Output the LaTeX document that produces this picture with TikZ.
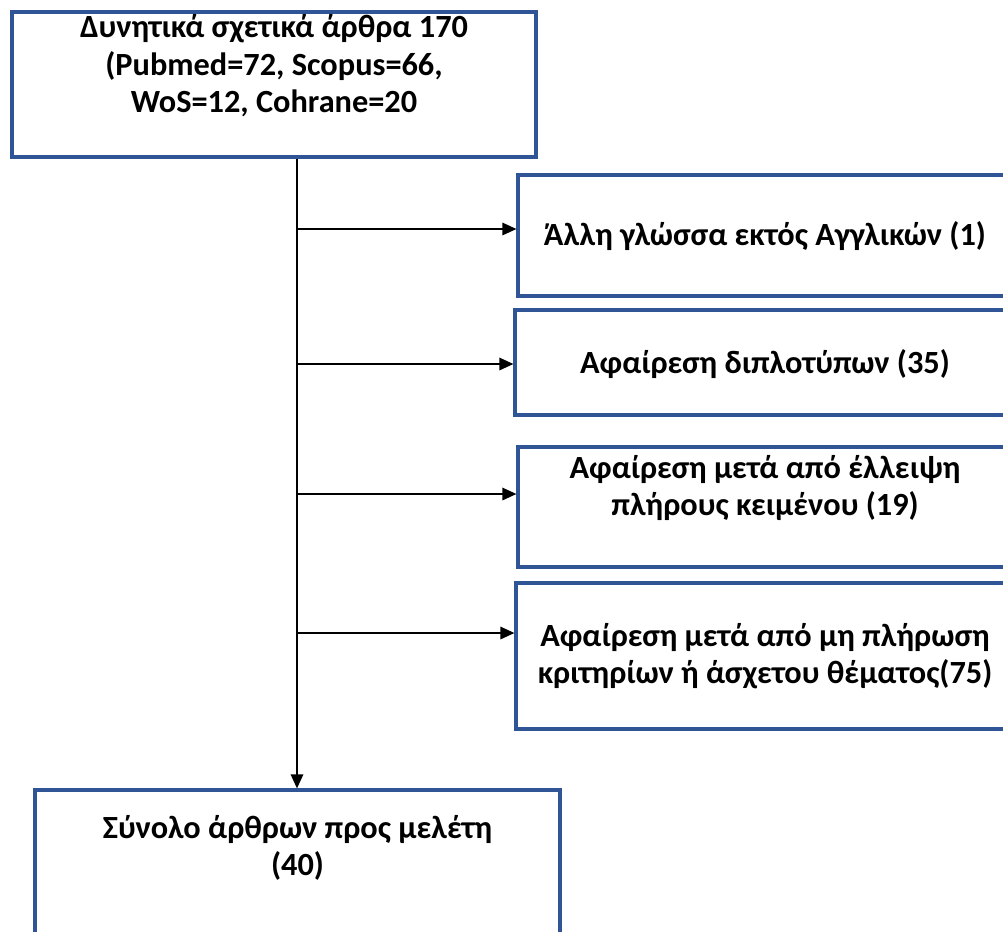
\documentclass[tikz,border=0pt]{standalone}
\usepackage{fontspec}
\setmainfont{Carlito}
\usetikzlibrary{arrows.meta,positioning}
\definecolor{boxblue}{RGB}{47,85,151}

\begin{document}
\begin{tikzpicture}[x=0.02cm,y=-0.02cm,
    box/.style={draw=boxblue,line width=1.8pt,rectangle,inner sep=0pt},
    txt/.style={align=center,font=\fontsize{18.4}{21.3}\selectfont\bfseries,inner sep=0pt},
    flow/.style={line width=1.2pt,-{Triangle[length=8pt,width=7pt]}}]
        \useasboundingbox (0,0) rectangle (1003,931);
        \clip (0,0) rectangle (1003,931);

        \node[box,minimum width=10.48cm,minimum height=2.9cm] (src) at (274,84.5) {};
        \node[txt] (srctxt) at (274,66) {Δυνητικά σχετικά άρθρα 170\\(Pubmed=72, Scopus=66,\\WoS=12, Cohrane=20};

        \node[box,minimum width=9.88cm,minimum height=2.42cm] (ex1) at (765,235.5) {};
        \node[txt] (ex1txt) at (765,236) {Άλλη γλώσσα εκτός Αγγλικών (1)};
        \node[box,minimum width=9.94cm,minimum height=2.1cm] (ex2) at (763.5,362.5) {};
        \node[txt] (ex2txt) at (765,364) {Αφαίρεση διπλοτύπων (35)};
        \node[box,minimum width=9.88cm,minimum height=2.4cm] (ex3) at (765,507) {};
        \node[txt] (ex3txt) at (765,488) {Αφαίρεση μετά από έλλειψη\\πλήρους κειμένου (19)};
        \node[box,minimum width=9.92cm,minimum height=2.92cm] (ex4) at (764,656) {};
        \node[txt] (ex4txt) at (765,656) {Αφαίρεση μετά από μη πλήρωση\\κριτηρίων ή άσχετου θέματος(75)};

        \node[box,minimum width=10.5cm,minimum height=3.4cm] (total) at (297.5,875) {};
        \node[txt] (totaltxt) at (297.5,848) {Σύνολο άρθρων προς μελέτη\\(40)};

        % trunk and side branches
        \coordinate (top) at (297,0 |- src.south);
        \draw[flow] (top) -- (top |- total.north);
        \foreach \y/\b in {229/ex1,364/ex2,494/ex3,633/ex4}{
            \coordinate (j\b) at (297,\y);
            \draw[flow] (j\b) -- (j\b -| \b.west);
        }
    \end{tikzpicture}
\end{document}
